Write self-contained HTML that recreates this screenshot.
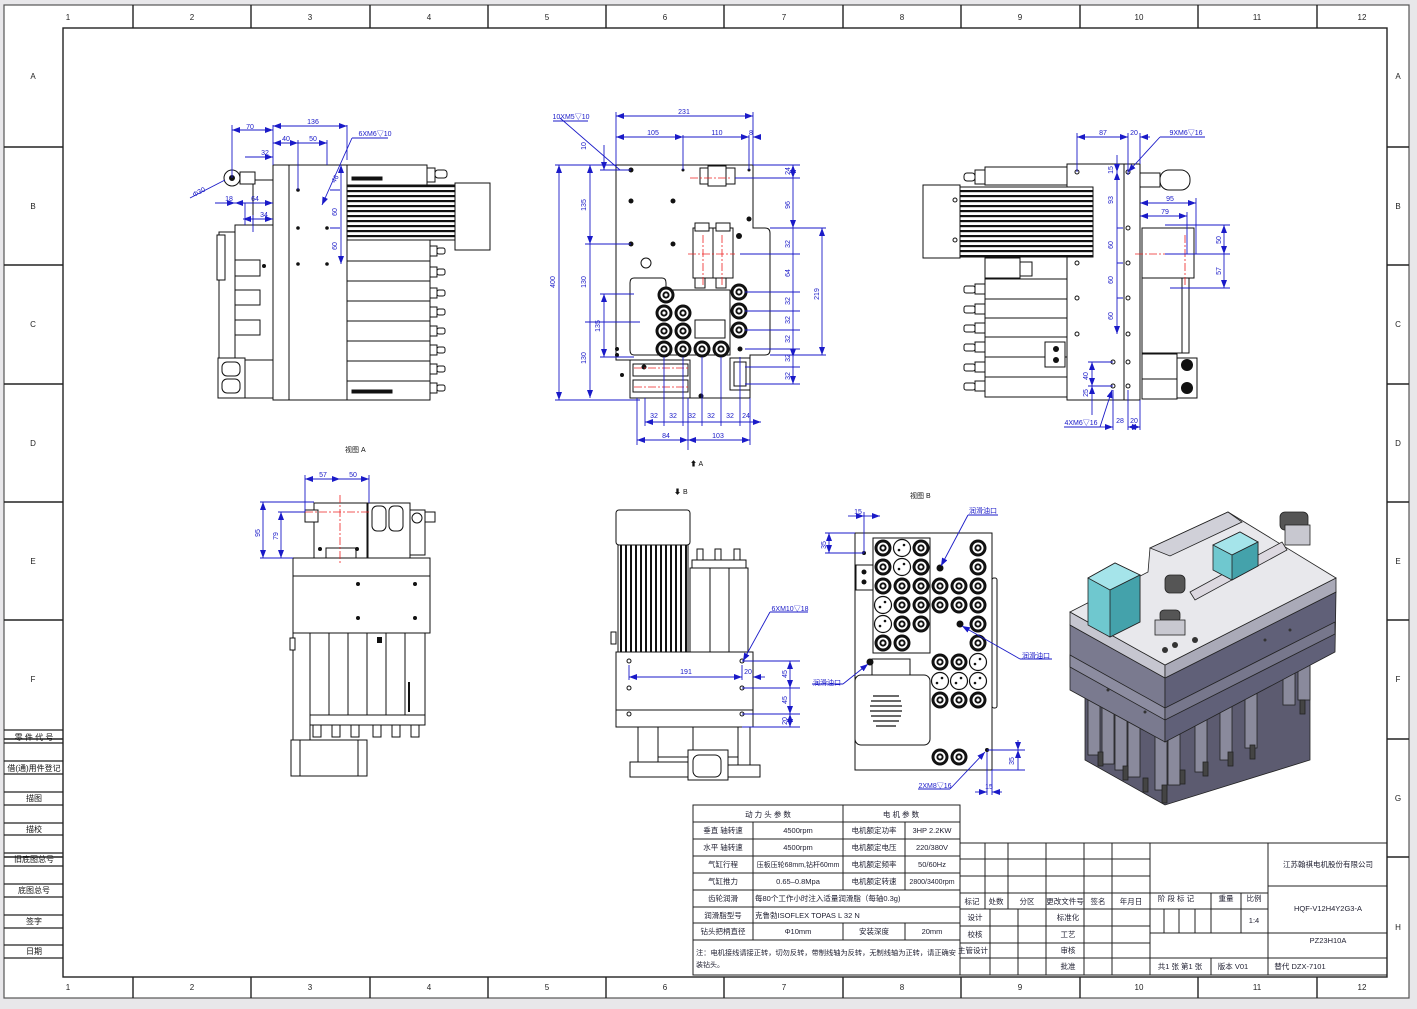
<!DOCTYPE html>
<html><head><meta charset="utf-8"><style>
html,body{margin:0;padding:0;background:#e8e7ea}
svg{display:block}
text{font-family:"Liberation Sans","Noto Sans CJK SC",sans-serif}
</style></head><body>
<svg width="1417" height="1009" viewBox="0 0 1417 1009" xmlns="http://www.w3.org/2000/svg">
<defs>
<pattern id="finH" width="6" height="5" patternUnits="userSpaceOnUse"><rect width="6" height="5" fill="#fff"/><rect y="0" width="6" height="2.2" fill="#111"/></pattern>
<pattern id="finV" width="5" height="6" patternUnits="userSpaceOnUse"><rect width="5" height="6" fill="#fff"/><rect x="0" width="2" height="6" fill="#111"/></pattern>
<g id="well"><circle r="8.5" fill="#111"/><circle r="5.5" fill="#fff"/><circle r="3.6" fill="#111"/><circle r="1.6" fill="#fff"/></g>
<g id="wellW"><circle r="8.5" fill="#fff" stroke="#111" stroke-width="1.2"/><circle cx="-3" cy="2" r="1.3" fill="#111"/><circle cx="2" cy="-3" r="1.3" fill="#111"/></g>
<g id="hole"><circle r="2" fill="none" stroke="#111" stroke-width="1"/></g>
<marker id="ar" markerWidth="8" markerHeight="6" refX="8" refY="3" orient="auto-start-reverse" markerUnits="userSpaceOnUse"><path d="M0,0 L8,3 L0,6z" fill="#1a1ac8"/></marker>
</defs>
<rect x="4" y="5" width="1405" height="993" fill="#fff" stroke="#555" stroke-width="1.2"/>
<g stroke="#222" stroke-width="1.4" fill="none">
<rect x="63" y="28" width="1324" height="949"/>
<path d="M133 5V28M251 5V28M370 5V28M488 5V28M606 5V28M724 5V28M843 5V28M961 5V28M1080 5V28M1198 5V28M1317 5V28"/>
<path d="M133 977V998M251 977V998M370 977V998M488 977V998M606 977V998M724 977V998M843 977V998M961 977V998M1080 977V998M1198 977V998M1317 977V998"/>
<path d="M4 147H63M4 265H63M4 384H63M4 502H63M4 620H63M4 739H63M4 857H63"/>
<path d="M1387 147H1409M1387 265H1409M1387 384H1409M1387 502H1409M1387 620H1409M1387 739H1409M1387 857H1409"/>
</g>
<g font-size="8" fill="#222" text-anchor="middle">
<text x="68" y="20">1</text><text x="192" y="20">2</text><text x="310" y="20">3</text><text x="429" y="20">4</text><text x="547" y="20">5</text><text x="665" y="20">6</text><text x="784" y="20">7</text><text x="902" y="20">8</text><text x="1020" y="20">9</text><text x="1139" y="20">10</text><text x="1257" y="20">11</text><text x="1362" y="20">12</text>
<text x="68" y="990">1</text><text x="192" y="990">2</text><text x="310" y="990">3</text><text x="429" y="990">4</text><text x="547" y="990">5</text><text x="665" y="990">6</text><text x="784" y="990">7</text><text x="902" y="990">8</text><text x="1020" y="990">9</text><text x="1139" y="990">10</text><text x="1257" y="990">11</text><text x="1362" y="990">12</text>
<text x="33" y="79">A</text><text x="33" y="209">B</text><text x="33" y="327">C</text><text x="33" y="446">D</text><text x="33" y="564">E</text><text x="33" y="682">F</text>
<text x="1398" y="79">A</text><text x="1398" y="209">B</text><text x="1398" y="327">C</text><text x="1398" y="446">D</text><text x="1398" y="564">E</text><text x="1398" y="682">F</text><text x="1398" y="801">G</text><text x="1398" y="930">H</text>
</g>
<g stroke="#222" stroke-width="1.2">
<path d="M4 730H63M4 743H63M4 761H63M4 774H63M4 792H63M4 805H63M4 823H63M4 835H63M4 853H63M4 866H63M4 884H63M4 897H63M4 915H63M4 928H63M4 945H63M4 958H63"/>
</g>
<g font-size="8" fill="#111" text-anchor="middle">
<text x="34" y="740">零 件 代 号</text><text x="34" y="771">借(通)用件登记</text><text x="34" y="801">描图</text><text x="34" y="832">描校</text><text x="34" y="862">旧底图总号</text><text x="34" y="893">底图总号</text><text x="34" y="924">签字</text><text x="34" y="954">日期</text>
</g>

<!-- VIEW 1 -->
<g stroke="#111" stroke-width="1" fill="#fff">
<rect x="273" y="165" width="74" height="235"/>
<line x1="289" y1="165" x2="289" y2="400"/>
<rect x="347" y="185" width="108" height="55" fill="url(#finH)"/>
<rect x="455" y="183" width="35" height="67"/>
<rect x="347" y="165" width="80" height="20"/>
<rect x="427" y="168" width="8" height="14"/><rect x="435" y="170" width="12" height="8" rx="3"/>
<rect x="347" y="240" width="83" height="21"/><rect x="347" y="261" width="83" height="20"/><rect x="347" y="281" width="83" height="20"/><rect x="347" y="301" width="83" height="20"/><rect x="347" y="321" width="83" height="20"/><rect x="347" y="341" width="83" height="20"/><rect x="347" y="361" width="83" height="20"/><rect x="347" y="381" width="83" height="19"/>
<rect x="430" y="246" width="7" height="10"/><rect x="437" y="248" width="8" height="6" rx="2"/>
<rect x="430" y="267" width="7" height="10"/><rect x="437" y="269" width="8" height="6" rx="2"/>
<rect x="430" y="288" width="7" height="10"/><rect x="437" y="290" width="8" height="6" rx="2"/>
<rect x="430" y="307" width="7" height="10"/><rect x="437" y="309" width="8" height="6" rx="2"/>
<rect x="430" y="326" width="7" height="10"/><rect x="437" y="328" width="8" height="6" rx="2"/>
<rect x="430" y="345" width="7" height="10"/><rect x="437" y="347" width="8" height="6" rx="2"/>
<rect x="430" y="364" width="7" height="10"/><rect x="437" y="366" width="8" height="6" rx="2"/>
<rect x="430" y="383" width="7" height="10"/><rect x="437" y="385" width="8" height="6" rx="2"/>
<rect x="235" y="225" width="38" height="135"/>
<rect x="219" y="232" width="16" height="128"/><rect x="217" y="235" width="8" height="45"/>
<rect x="253" y="180" width="20" height="45"/>
<circle cx="232" cy="178" r="8"/><circle cx="232" cy="178" r="2.5" fill="#111"/>
<rect x="240" y="172" width="15" height="12"/>
<rect x="235" y="260" width="25" height="16"/><rect x="235" y="290" width="25" height="15"/><rect x="235" y="320" width="25" height="15"/>
<rect x="218" y="358" width="27" height="40"/><rect x="222" y="362" width="18" height="14" rx="5"/><rect x="222" y="379" width="18" height="14" rx="5"/>
<rect x="245" y="360" width="28" height="38"/>
<rect x="352" y="390" width="40" height="3" fill="#111"/><rect x="352" y="177" width="30" height="3" fill="#111"/>
</g>
<g fill="#111"><circle cx="298" cy="190" r="1.8"/><circle cx="298" cy="228" r="1.8"/><circle cx="327" cy="228" r="1.8"/><circle cx="298" cy="264" r="1.8"/><circle cx="327" cy="264" r="1.8"/><circle cx="264" cy="266" r="2"/></g>
<g stroke="#1a1ac8" stroke-width="0.9" fill="none">
<path d="M232 178V125M273 125V160M347 125V160M298 140V190M327 140V165M273 150V165"/>
<line x1="232" y1="130" x2="273" y2="130" marker-start="url(#ar)" marker-end="url(#ar)"/>
<line x1="273" y1="126" x2="347" y2="126" marker-start="url(#ar)" marker-end="url(#ar)"/>
<line x1="273" y1="143" x2="298" y2="143" marker-end="url(#ar)" marker-start="url(#ar)"/>
<line x1="298" y1="143" x2="327" y2="143" marker-end="url(#ar)"/>
<line x1="245" y1="157" x2="273" y2="157" marker-end="url(#ar)"/>
<line x1="215" y1="203" x2="235" y2="203" marker-end="url(#ar)"/>
<line x1="235" y1="203" x2="273" y2="203" marker-start="url(#ar)" marker-end="url(#ar)"/>
<line x1="243" y1="219" x2="273" y2="219" marker-start="url(#ar)" marker-end="url(#ar)"/>
<line x1="190" y1="198" x2="225" y2="180"/>
<line x1="341" y1="165" x2="341" y2="264" marker-start="url(#ar)" marker-end="url(#ar)"/>
<path d="M340 190h-10M340 228h-10"/>
<line x1="352" y1="138" x2="322" y2="205" marker-end="url(#ar)"/><line x1="352" y1="138" x2="388" y2="138"/>
<path d="M245 203V225M253 215V232"/>
</g>
<g font-size="7" fill="#1a1ac8" text-anchor="middle">
<text x="250" y="129">70</text><text x="313" y="124">136</text><text x="286" y="141">40</text><text x="313" y="141">50</text><text x="265" y="155">32</text><text x="229" y="201">18</text><text x="255" y="201">64</text><text x="264" y="217">34</text><text x="375" y="136">6XM6▽10</text>
<text x="200" y="194" transform="rotate(-28 200 194)">Φ30</text>
<text x="337" y="212" transform="rotate(-90 337 212)">60</text><text x="337" y="246" transform="rotate(-90 337 246)">60</text><text x="337" y="180" transform="rotate(-60 337 180)">46</text>
</g>

<!-- VIEW 2 -->
<g stroke="#111" stroke-width="1" fill="#fff">
<path d="M616 165H753V228H765Q770 228 770 233V350Q770 355 765 355H750V398H637V360H616Z"/>
<path d="M634 278H662Q666 278 666 283V290H730V355H634Q630 355 630 350V283Q630 278 634 278Z" fill="none"/>
<rect x="700" y="168" width="35" height="16"/><rect x="708" y="166" width="18" height="20"/>
<rect x="693" y="228" width="20" height="50"/><rect x="713" y="228" width="20" height="50"/>
<rect x="695" y="223" width="14" height="8"/><rect x="716" y="223" width="14" height="8"/>
<rect x="695" y="278" width="10" height="10"/><rect x="716" y="278" width="10" height="10"/>
<rect x="695" y="320" width="30" height="18"/>
<rect x="630" y="360" width="60" height="38"/><rect x="633" y="364" width="55" height="12"/><rect x="633" y="380" width="55" height="12"/>
<rect x="730" y="358" width="20" height="32"/><rect x="734" y="362" width="12" height="24"/>
<circle cx="646" cy="263" r="5"/>
</g>
<g>
<use href="#well" x="666" y="295"/><use href="#well" x="664" y="313"/><use href="#well" x="683" y="313"/><use href="#well" x="664" y="331"/><use href="#well" x="683" y="331"/><use href="#well" x="664" y="349"/><use href="#well" x="683" y="349"/><use href="#well" x="702" y="349"/><use href="#well" x="721" y="349"/>
<use href="#well" x="739" y="292"/><use href="#well" x="739" y="311"/><use href="#well" x="739" y="330"/>
</g>
<g fill="#111"><circle cx="631" cy="170" r="2.5"/><circle cx="631" cy="244" r="2.5"/><circle cx="673" cy="244" r="2.5"/><circle cx="673" cy="201" r="2.5"/><circle cx="631" cy="201" r="2.5"/><circle cx="749" cy="219" r="2.5"/><circle cx="644" cy="367" r="2.5"/><circle cx="701" cy="396" r="2.5"/><circle cx="740" cy="349" r="2.5"/><circle cx="617" cy="349" r="2"/><circle cx="617" cy="355" r="2"/><circle cx="622" cy="375" r="2"/><circle cx="683" cy="170" r="1.5"/><circle cx="749" cy="170" r="1.5"/><circle cx="739" cy="236" r="3"/></g>
<g stroke="#e22" stroke-width="0.8" stroke-dasharray="8 2 2 2" fill="none"><path d="M690 178H730M688 254H735M703 235V285M722 235V285M634 368H690M634 387H690"/></g>
<g stroke="#1a1ac8" stroke-width="0.9" fill="none">
<line x1="616" y1="116" x2="753" y2="116" marker-start="url(#ar)" marker-end="url(#ar)"/>
<line x1="616" y1="137" x2="683" y2="137" marker-start="url(#ar)" marker-end="url(#ar)"/>
<line x1="683" y1="137" x2="749" y2="137" marker-end="url(#ar)"/>
<line x1="760" y1="137" x2="753" y2="137" marker-end="url(#ar)"/>
<path d="M616 112V165M753 112V165M683 135V170M749 135V170"/>
<line x1="559" y1="165" x2="559" y2="400" marker-start="url(#ar)" marker-end="url(#ar)"/>
<line x1="590" y1="165" x2="590" y2="244" marker-start="url(#ar)" marker-end="url(#ar)"/>
<line x1="590" y1="244" x2="590" y2="398" marker-end="url(#ar)"/>
<line x1="604" y1="145" x2="604" y2="170" marker-end="url(#ar)"/>
<line x1="604" y1="294" x2="604" y2="357" marker-start="url(#ar)" marker-end="url(#ar)"/>
<path d="M555 165H616M555 400H640M585 244H631M585 322H640M600 294H634M600 357H634M600 170H631"/>
<line x1="793" y1="165" x2="793" y2="178" marker-start="url(#ar)" marker-end="url(#ar)"/>
<line x1="793" y1="178" x2="793" y2="228" marker-end="url(#ar)"/>
<line x1="793" y1="228" x2="793" y2="357" marker-end="url(#ar)"/>
<line x1="793" y1="355" x2="793" y2="384" marker-end="url(#ar)"/>
<line x1="822" y1="228" x2="822" y2="355" marker-start="url(#ar)" marker-end="url(#ar)"/>
<path d="M753 165H800M735 178H800M770 228H826M740 254H800M745 292H800M745 311H800M745 330H800M745 349H800M770 355H826M745 367H800M745 384H800"/>
<line x1="645" y1="422" x2="761" y2="422" marker-start="url(#ar)" marker-end="url(#ar)"/>
<line x1="637" y1="440" x2="688" y2="440" marker-start="url(#ar)" marker-end="url(#ar)"/>
<line x1="688" y1="440" x2="750" y2="440" marker-start="url(#ar)" marker-end="url(#ar)"/>
<path d="M645 398V426M664 357V426M683 357V426M702 357V426M721 357V426M740 357V426M637 398V445M688 398V450M750 398V445"/>
<line x1="560" y1="118" x2="620" y2="170" /><line x1="553" y1="121" x2="588" y2="121"/>
</g>
<g font-size="7" fill="#1a1ac8" text-anchor="middle">
<text x="684" y="114">231</text><text x="653" y="135">105</text><text x="717" y="135">110</text><text x="751" y="135">8</text><text x="571" y="119">10XM5▽10</text>
<text x="555" y="282" transform="rotate(-90 555 282)">400</text><text x="586" y="205" transform="rotate(-90 586 205)">135</text><text x="586" y="282" transform="rotate(-90 586 282)">130</text><text x="586" y="358" transform="rotate(-90 586 358)">130</text><text x="600" y="326" transform="rotate(-90 600 326)">135</text><text x="586" y="146" transform="rotate(-90 586 146)">10</text>
<text x="790" y="171" transform="rotate(-90 790 171)">24</text><text x="790" y="205" transform="rotate(-90 790 205)">96</text><text x="790" y="244" transform="rotate(-90 790 244)">32</text><text x="790" y="273" transform="rotate(-90 790 273)">64</text><text x="790" y="301" transform="rotate(-90 790 301)">32</text><text x="790" y="320" transform="rotate(-90 790 320)">32</text><text x="790" y="339" transform="rotate(-90 790 339)">32</text><text x="790" y="358" transform="rotate(-90 790 358)">32</text><text x="790" y="376" transform="rotate(-90 790 376)">32</text><text x="819" y="294" transform="rotate(-90 819 294)">219</text>
<text x="654" y="418">32</text><text x="673" y="418">32</text><text x="692" y="418">32</text><text x="711" y="418">32</text><text x="730" y="418">32</text><text x="746" y="418">24</text><text x="666" y="438">84</text><text x="718" y="438">103</text>
</g>
<text x="690" y="466" font-size="7" fill="#111">⬆ A</text>

<!-- VIEW 3 -->
<g stroke="#111" stroke-width="1" fill="#fff">
<rect x="1067" y="164" width="73" height="236"/>
<line x1="1124" y1="164" x2="1124" y2="400"/>
<rect x="960" y="187" width="133" height="70" fill="url(#finH)"/>
<rect x="923" y="185" width="37" height="73"/>
<rect x="985" y="167" width="82" height="18"/><rect x="975" y="170" width="10" height="14"/><rect x="964" y="173" width="11" height="8" rx="3"/>
<rect x="985" y="258" width="35" height="20"/><rect x="1020" y="262" width="12" height="14"/>
<rect x="985" y="279" width="82" height="20"/><rect x="985" y="299" width="82" height="19"/><rect x="985" y="318" width="82" height="19"/><rect x="985" y="337" width="82" height="20"/><rect x="985" y="357" width="82" height="20"/><rect x="985" y="377" width="82" height="20"/>
<rect x="975" y="284" width="10" height="10"/><rect x="964" y="286" width="11" height="7" rx="2"/>
<rect x="975" y="304" width="10" height="10"/><rect x="964" y="306" width="11" height="7" rx="2"/>
<rect x="975" y="323" width="10" height="10"/><rect x="964" y="325" width="11" height="7" rx="2"/>
<rect x="975" y="342" width="10" height="10"/><rect x="964" y="344" width="11" height="7" rx="2"/>
<rect x="975" y="362" width="10" height="10"/><rect x="964" y="364" width="11" height="7" rx="2"/>
<rect x="975" y="381" width="10" height="10"/><rect x="964" y="383" width="11" height="7" rx="2"/>
<rect x="1045" y="342" width="20" height="25"/>
<rect x="1140" y="173" width="20" height="14"/><rect x="1160" y="170" width="30" height="20" rx="9"/>
<rect x="1142" y="228" width="52" height="50"/><rect x="1142" y="278" width="47" height="75"/><rect x="1182" y="278" width="7" height="75"/>
<rect x="1142" y="354" width="35" height="25"/><rect x="1142" y="379" width="35" height="20"/><rect x="1177" y="358" width="20" height="40"/>
</g>
<g fill="#111"><circle cx="1187" cy="365" r="6"/><circle cx="1187" cy="388" r="6"/><circle cx="1056" cy="349" r="3"/><circle cx="1056" cy="360" r="3"/></g>
<g><use href="#hole" x="1077" y="172"/><use href="#hole" x="1077" y="263"/><use href="#hole" x="1077" y="298"/><use href="#hole" x="1077" y="334"/><use href="#hole" x="1113" y="362"/><use href="#hole" x="1113" y="386"/><use href="#hole" x="1128" y="172"/><use href="#hole" x="1128" y="228"/><use href="#hole" x="1128" y="263"/><use href="#hole" x="1128" y="298"/><use href="#hole" x="1128" y="334"/><use href="#hole" x="1128" y="362"/><use href="#hole" x="1128" y="386"/><use href="#hole" x="955" y="200"/><use href="#hole" x="955" y="240"/></g>
<path d="M1135 254H1200M1185 235V285" stroke="#e22" stroke-width="0.8" stroke-dasharray="8 2 2 2"/>
<g stroke="#1a1ac8" stroke-width="0.9" fill="none">
<line x1="1077" y1="137" x2="1128" y2="137" marker-start="url(#ar)" marker-end="url(#ar)"/>
<line x1="1150" y1="137" x2="1140" y2="137" marker-end="url(#ar)"/>
<path d="M1077 133V172M1128 133V175M1140 133V164"/>
<line x1="1140" y1="203" x2="1196" y2="203" marker-start="url(#ar)" marker-end="url(#ar)"/>
<line x1="1140" y1="216" x2="1187" y2="216" marker-start="url(#ar)" marker-end="url(#ar)"/>
<path d="M1196 198V254M1187 212V254M1165 225H1230M1165 254H1230M1170 288H1230"/>
<line x1="1224" y1="225" x2="1224" y2="254" marker-start="url(#ar)" marker-end="url(#ar)"/>
<line x1="1224" y1="254" x2="1224" y2="288" marker-end="url(#ar)"/>
<line x1="1117" y1="155" x2="1117" y2="172" marker-end="url(#ar)"/>
<line x1="1117" y1="172" x2="1117" y2="334" marker-start="url(#ar)" marker-end="url(#ar)"/>
<path d="M1117 228h6M1117 263h6M1117 298h6"/>
<line x1="1092" y1="362" x2="1092" y2="386" marker-start="url(#ar)" marker-end="url(#ar)"/>
<line x1="1092" y1="386" x2="1092" y2="415" marker-start="url(#ar)"/>
<path d="M1088 362H1113M1088 386H1113M1113 390V430M1128 390V430M1140 400V430"/>
<line x1="1100" y1="427" x2="1113" y2="427" marker-end="url(#ar)"/>
<line x1="1128" y1="427" x2="1140" y2="427" marker-start="url(#ar)" marker-end="url(#ar)"/>
<line x1="1100" y1="427" x2="1112" y2="390" marker-end="url(#ar)"/><line x1="1064" y1="427" x2="1100" y2="427"/>
<line x1="1160" y1="137" x2="1128" y2="172" marker-end="url(#ar)"/><line x1="1160" y1="137" x2="1205" y2="137"/>
</g>
<g font-size="7" fill="#1a1ac8" text-anchor="middle">
<text x="1103" y="135">87</text><text x="1134" y="135">20</text><text x="1186" y="135">9XM6▽16</text><text x="1170" y="201">95</text><text x="1165" y="214">79</text>
<text x="1221" y="240" transform="rotate(-90 1221 240)">50</text><text x="1221" y="271" transform="rotate(-90 1221 271)">57</text>
<text x="1113" y="200" transform="rotate(-90 1113 200)">93</text><text x="1113" y="245" transform="rotate(-90 1113 245)">60</text><text x="1113" y="280" transform="rotate(-90 1113 280)">60</text><text x="1113" y="316" transform="rotate(-90 1113 316)">60</text><text x="1113" y="170" transform="rotate(-90 1113 170)">15</text>
<text x="1088" y="376" transform="rotate(-90 1088 376)">40</text><text x="1088" y="393" transform="rotate(-90 1088 393)">25</text>
<text x="1120" y="423">28</text><text x="1134" y="423">20</text><text x="1081" y="425">4XM6▽16</text>
</g>

<!-- VIEW A -->
<text x="345" y="452" font-size="7" fill="#111">视图 A</text>
<g stroke="#111" stroke-width="1" fill="#fff">
<rect x="314" y="503" width="53" height="55"/><rect x="305" y="510" width="13" height="12"/>
<rect x="368" y="503" width="42" height="55"/><rect x="372" y="506" width="14" height="25" rx="5"/><rect x="389" y="506" width="14" height="25" rx="5"/>
<rect x="410" y="510" width="15" height="45"/><circle cx="417" cy="518" r="5"/><rect x="425" y="512" width="10" height="10"/>
<rect x="326" y="548" width="30" height="10"/>
<rect x="293" y="558" width="137" height="75"/><line x1="293" y1="576" x2="430" y2="576"/>
<rect x="293" y="633" width="17" height="107"/><rect x="290" y="638" width="5" height="12"/>
<rect x="310" y="633" width="19" height="85"/><rect x="329" y="633" width="19" height="85"/><rect x="348" y="633" width="19" height="85"/><rect x="367" y="633" width="19" height="85"/><rect x="386" y="633" width="19" height="85"/><rect x="405" y="633" width="20" height="85"/>
<rect x="310" y="715" width="115" height="10"/>
<rect x="313" y="725" width="8" height="12"/><rect x="332" y="725" width="8" height="12"/><rect x="351" y="725" width="8" height="12"/><rect x="373" y="725" width="8" height="12"/><rect x="392" y="725" width="8" height="12"/><rect x="411" y="725" width="8" height="12"/>
<rect x="291" y="740" width="76" height="36"/><line x1="300" y1="740" x2="300" y2="776"/><line x1="358" y1="740" x2="358" y2="776"/>
</g>
<g fill="#111"><circle cx="358" cy="584" r="2"/><circle cx="415" cy="584" r="2"/><circle cx="358" cy="618" r="2"/><circle cx="415" cy="618" r="2"/><circle cx="320" cy="549" r="2"/><circle cx="357" cy="549" r="2"/><rect x="408" y="682" width="2" height="30"/><rect x="377" y="637" width="5" height="6"/></g>
<path d="M305 512H370M340 495V565" stroke="#e22" stroke-width="0.8" stroke-dasharray="8 2 2 2"/>
<g stroke="#1a1ac8" stroke-width="0.9" fill="none">
<line x1="305" y1="479" x2="340" y2="479" marker-start="url(#ar)" marker-end="url(#ar)"/>
<line x1="340" y1="479" x2="369" y2="479" marker-end="url(#ar)"/>
<path d="M305 475V512M369 475V503M260 502H314M278 512H305M260 558H293"/>
<line x1="263" y1="502" x2="263" y2="558" marker-start="url(#ar)" marker-end="url(#ar)"/>
<line x1="281" y1="512" x2="281" y2="558" marker-start="url(#ar)" marker-end="url(#ar)"/>
</g>
<g font-size="7" fill="#1a1ac8" text-anchor="middle"><text x="323" y="477">57</text><text x="353" y="477">50</text><text x="260" y="533" transform="rotate(-90 260 533)">95</text><text x="278" y="536" transform="rotate(-90 278 536)">79</text></g>

<!-- VIEW bottom middle -->
<text x="674" y="494" font-size="7" fill="#111">⬇ B</text>
<g stroke="#111" stroke-width="1" fill="#fff">
<rect x="616" y="510" width="74" height="35" rx="3"/>
<rect x="618" y="545" width="70" height="107" fill="url(#finV)"/>
<rect x="690" y="568" width="58" height="84"/><line x1="710" y1="568" x2="710" y2="652"/><line x1="729" y1="568" x2="729" y2="652"/>
<rect x="697" y="549" width="6" height="12"/><rect x="715" y="549" width="6" height="12"/><rect x="734" y="549" width="6" height="12"/>
<rect x="692" y="560" width="54" height="8"/>
<rect x="616" y="652" width="137" height="58"/><rect x="616" y="710" width="137" height="17"/>
<rect x="638" y="727" width="20" height="35"/><rect x="658" y="727" width="35" height="30"/><rect x="693" y="727" width="45" height="30"/><rect x="738" y="727" width="12" height="40"/>
<rect x="630" y="762" width="60" height="15"/><rect x="688" y="750" width="40" height="30"/><rect x="693" y="755" width="28" height="22" rx="6"/><rect x="728" y="765" width="32" height="12"/>
<rect x="611" y="632" width="5" height="12"/>
</g>
<g><use href="#hole" x="629" y="661"/><use href="#hole" x="742" y="661"/><use href="#hole" x="629" y="688"/><use href="#hole" x="742" y="688"/><use href="#hole" x="629" y="714"/><use href="#hole" x="742" y="714"/></g>
<g stroke="#1a1ac8" stroke-width="0.9" fill="none">
<line x1="629" y1="677" x2="742" y2="677" marker-start="url(#ar)" marker-end="url(#ar)"/>
<line x1="765" y1="677" x2="753" y2="677" marker-end="url(#ar)"/>
<path d="M629 665V680M742 665V680M742 661H800M742 688H800M742 714H800M742 727H800"/>
<line x1="790" y1="661" x2="790" y2="688" marker-start="url(#ar)" marker-end="url(#ar)"/>
<line x1="790" y1="688" x2="790" y2="714" marker-end="url(#ar)"/>
<line x1="790" y1="714" x2="790" y2="727" marker-start="url(#ar)" marker-end="url(#ar)"/>
<line x1="770" y1="612" x2="743" y2="661" marker-end="url(#ar)"/><line x1="770" y1="612" x2="808" y2="612"/>
</g>
<g font-size="7" fill="#1a1ac8" text-anchor="middle"><text x="686" y="674">191</text><text x="748" y="674">20</text><text x="790" y="611">6XM10▽18</text><text x="787" y="674" transform="rotate(-90 787 674)">45</text><text x="787" y="700" transform="rotate(-90 787 700)">45</text><text x="787" y="721" transform="rotate(-90 787 721)">20</text></g>

<!-- VIEW B -->
<text x="910" y="498" font-size="7" fill="#111">视图 B</text>
<g stroke="#111" stroke-width="1" fill="#fff">
<rect x="855" y="533" width="137" height="237"/>
<rect x="992" y="578" width="5" height="130" rx="2"/>
<rect x="856" y="565" width="17" height="25"/>
<rect x="873" y="538" width="57" height="115" fill="#fff"/>
<rect x="855" y="675" width="75" height="70" rx="6"/>
<rect x="872" y="659" width="38" height="16"/>
</g>
<g fill="none" stroke="#111" stroke-width="1.3">
<path d="M873 696h26M871 701h30M870 706h32M870 711h32M871 716h30M873 721h26M876 726h20"/>
</g>
<g>
<use href="#well" x="883" y="548"/><use href="#wellW" x="902" y="548"/><use href="#well" x="921" y="548"/>
<use href="#well" x="883" y="567"/><use href="#wellW" x="902" y="567"/><use href="#well" x="921" y="567"/>
<use href="#well" x="883" y="586"/><use href="#well" x="902" y="586"/><use href="#well" x="921" y="586"/>
<use href="#wellW" x="883" y="605"/><use href="#well" x="902" y="605"/><use href="#well" x="921" y="605"/>
<use href="#wellW" x="883" y="624"/><use href="#well" x="902" y="624"/><use href="#well" x="921" y="624"/>
<use href="#well" x="883" y="643"/><use href="#well" x="902" y="643"/>
<use href="#well" x="940" y="586"/><use href="#well" x="959" y="586"/><use href="#well" x="978" y="586"/>
<use href="#well" x="940" y="605"/><use href="#well" x="959" y="605"/><use href="#well" x="978" y="605"/>
<use href="#well" x="978" y="548"/><use href="#well" x="978" y="567"/><use href="#well" x="978" y="624"/><use href="#well" x="978" y="643"/>
<use href="#well" x="940" y="662"/><use href="#well" x="959" y="662"/><use href="#wellW" x="978" y="662"/>
<use href="#wellW" x="940" y="681"/><use href="#wellW" x="959" y="681"/><use href="#wellW" x="978" y="681"/>
<use href="#well" x="940" y="700"/><use href="#well" x="959" y="700"/><use href="#well" x="978" y="700"/>
<use href="#well" x="940" y="757"/><use href="#well" x="959" y="757"/>
</g>
<g fill="#111"><circle cx="940" cy="568" r="3.5"/><circle cx="960" cy="624" r="3.5"/><circle cx="870" cy="662" r="3.5"/><circle cx="864" cy="572" r="2.5"/><circle cx="864" cy="582" r="2.5"/><circle cx="987" cy="750" r="2"/><circle cx="864" cy="553" r="2"/></g>
<g stroke="#1a1ac8" stroke-width="0.9" fill="none">
<line x1="848" y1="516" x2="864" y2="516" marker-end="url(#ar)"/><line x1="880" y1="516" x2="864" y2="516" marker-start="url(#ar)"/>
<path d="M864 512V553M825 553H864M825 533H855"/>
<line x1="829" y1="533" x2="829" y2="553" marker-start="url(#ar)" marker-end="url(#ar)"/>
<line x1="968" y1="515" x2="941" y2="566" marker-end="url(#ar)"/><line x1="968" y1="515" x2="998" y2="515"/>
<line x1="1020" y1="659" x2="962" y2="626" marker-end="url(#ar)"/><line x1="1020" y1="659" x2="1052" y2="659"/>
<line x1="843" y1="684" x2="868" y2="664" marker-end="url(#ar)"/><line x1="812" y1="684" x2="843" y2="684"/>
<line x1="950" y1="789" x2="985" y2="752" marker-end="url(#ar)"/><line x1="918" y1="789" x2="950" y2="789"/>
<path d="M987 752V795M992 770V795M987 750H1025M992 770H1025"/>
<line x1="1018" y1="740" x2="1018" y2="750" marker-end="url(#ar)"/><line x1="1018" y1="770" x2="1018" y2="750" marker-end="url(#ar)"/>
<line x1="975" y1="792" x2="987" y2="792" marker-end="url(#ar)"/><line x1="1002" y1="792" x2="992" y2="792" marker-end="url(#ar)"/>
</g>
<g font-size="7" fill="#1a1ac8" text-anchor="middle"><text x="858" y="514">15</text><text x="826" y="545" transform="rotate(-90 826 545)">35</text><text x="983" y="513">润滑油口</text><text x="1036" y="658">润滑油口</text><text x="827" y="685">润滑油口</text><text x="935" y="788">2XM8▽16</text><text x="1014" y="761" transform="rotate(-90 1014 761)">35</text><text x="989" y="789">15</text></g>

<!-- 3D VIEW -->
<g stroke="#222" stroke-width="0.8">
<polygon points="1085,690 1310,620 1310,760 1165,805 1085,760" fill="#5c5b70"/>
<g fill="#8a8a9c">
<rect x="1088" y="685" width="12" height="70"/><rect x="1102" y="692" width="12" height="72"/><rect x="1115" y="698" width="12" height="72"/><rect x="1128" y="705" width="12" height="72"/><rect x="1155" y="712" width="12" height="78"/><rect x="1168" y="710" width="12" height="75"/><rect x="1195" y="700" width="12" height="72"/><rect x="1220" y="690" width="12" height="70"/><rect x="1245" y="680" width="12" height="68"/><rect x="1283" y="640" width="12" height="65"/><rect x="1298" y="635" width="12" height="65"/>
</g>
<g fill="#444"><rect x="1098" y="752" width="5" height="14"/><rect x="1123" y="766" width="5" height="14"/><rect x="1143" y="778" width="5" height="14"/><rect x="1162" y="785" width="5" height="18"/><rect x="1180" y="770" width="5" height="14"/><rect x="1203" y="762" width="5" height="14"/><rect x="1228" y="752" width="5" height="14"/><rect x="1250" y="745" width="5" height="14"/><rect x="1300" y="700" width="5" height="14"/></g>
<polygon points="1070,625 1165,678 1165,742 1070,690" fill="#7a7a8f"/>
<polygon points="1165,678 1336,592 1335,652 1165,742" fill="#606078"/>
<polygon points="1070,655 1165,708 1165,720 1070,667" fill="#8c8ca0"/>
<polygon points="1165,708 1335,622 1335,634 1165,720" fill="#77778c"/>
<polygon points="1070,612 1165,665 1165,678 1070,625" fill="#c6c6d0"/>
<polygon points="1165,665 1336,578 1336,592 1165,678" fill="#aaaab8"/>
<polygon points="1070,612 1148,572 1150,548 1228,512 1336,578 1165,665" fill="#e8e8ec"/>
<polygon points="1150,548 1228,512 1242,522 1170,556" fill="#d0d0d8"/>
<polygon points="1190,592 1282,542 1287,550 1195,600" fill="#dcd8e0"/>
<polygon points="1088,578 1115,563 1140,575 1140,622 1110,637 1088,625" fill="#6fc8cf"/>
<polygon points="1088,578 1115,563 1140,575 1110,590" fill="#a5e4ea"/>
<polygon points="1110,590 1140,575 1140,622 1110,637" fill="#44a2ab"/>
<polygon points="1213,545 1240,532 1258,542 1258,566 1232,580 1213,570" fill="#6fc8cf"/>
<polygon points="1213,545 1240,532 1258,542 1232,555" fill="#a5e4ea"/>
<polygon points="1232,555 1258,542 1258,566 1232,580" fill="#44a2ab"/>
<rect x="1165" y="575" width="20" height="18" rx="5" fill="#555"/>
<rect x="1160" y="610" width="20" height="12" rx="4" fill="#555"/>
<rect x="1155" y="620" width="30" height="15" fill="#c8c8d0"/>
<rect x="1280" y="512" width="28" height="18" rx="5" fill="#555"/>
<rect x="1285" y="525" width="25" height="20" fill="#c8c8d0"/>
</g>
<g fill="#333"><circle cx="1108" cy="690" r="1.5"/><circle cx="1145" cy="712" r="1.5"/><circle cx="1265" cy="640" r="1.5"/><circle cx="1290" cy="630" r="1.5"/><circle cx="1175" cy="645" r="3"/><circle cx="1195" cy="640" r="3"/><circle cx="1165" cy="650" r="3"/></g>

<!-- PARAM TABLE -->
<g stroke="#222" stroke-width="1" fill="none">
<rect x="693" y="805" width="267" height="170"/>
<path d="M693 822H960M693 839H960M693 856H960M693 873H960M693 890H960M693 907H960M693 923H960M693 940H960"/>
<path d="M753 822V940M843 805V890M843 923V940M905 822V890M905 923V940"/>
</g>
<g font-size="7.5" fill="#223" text-anchor="middle">
<text x="768" y="817">动 力 头 参 数</text><text x="901" y="817">电 机 参 数</text>
<text x="723" y="833">垂直 轴转速</text><text x="798" y="833">4500rpm</text><text x="874" y="833">电机额定功率</text><text x="932" y="833">3HP 2.2KW</text>
<text x="723" y="850">水平 轴转速</text><text x="798" y="850">4500rpm</text><text x="874" y="850">电机额定电压</text><text x="932" y="850">220/380V</text>
<text x="723" y="867">气缸行程</text><text x="798" y="867" font-size="7">压板压轮68mm,钻杆60mm</text><text x="874" y="867">电机额定频率</text><text x="932" y="867">50/60Hz</text>
<text x="723" y="884">气缸推力</text><text x="798" y="884">0.65–0.8Mpa</text><text x="874" y="884">电机额定转速</text><text x="932" y="884" font-size="7">2800/3400rpm</text>
<text x="723" y="901">齿轮润滑</text><text x="723" y="918">润滑脂型号</text><text x="723" y="934">钻头把柄直径</text><text x="798" y="934">Φ10mm</text><text x="874" y="934">安装深度</text><text x="932" y="934">20mm</text>
</g>
<g font-size="7.5" fill="#223"><text x="755" y="901">每80个工作小时注入适量润滑脂（每轴0.3g)</text><text x="755" y="918">克鲁勃ISOFLEX TOPAS L 32 N</text>
<text x="696" y="955" font-size="7" textLength="260" lengthAdjust="spacingAndGlyphs">注：电机接线请接正转，切勿反转，带制线轴为反转，无制线轴为正转，请正确安</text><text x="696" y="967" font-size="7">装钻头。</text></g>

<!-- TITLE BLOCK -->
<g stroke="#222" stroke-width="1" fill="none">
<rect x="960" y="843" width="427" height="132"/>
<path d="M960 859H1150M960 876H1150M960 893H1268M960 909H1268M960 926H1150M960 943H1150M960 958H1387M1268 886H1387M1268 933H1387M1150 933H1268M1150 843V975M1268 843V975"/>
<path d="M985 843V909M1008 843V909M1046 843V909M1084 843V909M1112 843V909"/>
<path d="M990 909V975M1018 909V975M1046 909V975M1084 909V975M1112 909V975"/>
<path d="M1211 893V933M1241 893V933M1164 909V933M1179 909V933M1195 909V933M1211 958V975"/>
</g>
<g font-size="7.5" fill="#223" text-anchor="middle">
<text x="1328" y="867">江苏翰祺电机股份有限公司</text>
<text x="972" y="904">标记</text><text x="996" y="904">处数</text><text x="1027" y="904">分区</text><text x="1065" y="904">更改文件号</text><text x="1098" y="904">签名</text><text x="1131" y="904">年月日</text>
<text x="1176" y="901">阶 段 标 记</text><text x="1226" y="901">重量</text><text x="1254" y="901">比例</text><text x="1254" y="923">1:4</text>
<text x="1328" y="911">HQF-V12H4Y2G3-A</text><text x="1328" y="943">PZ23H10A</text>
<text x="975" y="920">设计</text><text x="975" y="937">校核</text><text x="973" y="953">主管设计</text>
<text x="1068" y="920">标准化</text><text x="1068" y="937">工艺</text><text x="1068" y="953">审核</text><text x="1068" y="969">批准</text>
<text x="1180" y="969">共1 张  第1 张</text><text x="1233" y="969">版本  V01</text><text x="1300" y="969">替代   DZX-7101</text>
</g>
</svg>
</body></html>
